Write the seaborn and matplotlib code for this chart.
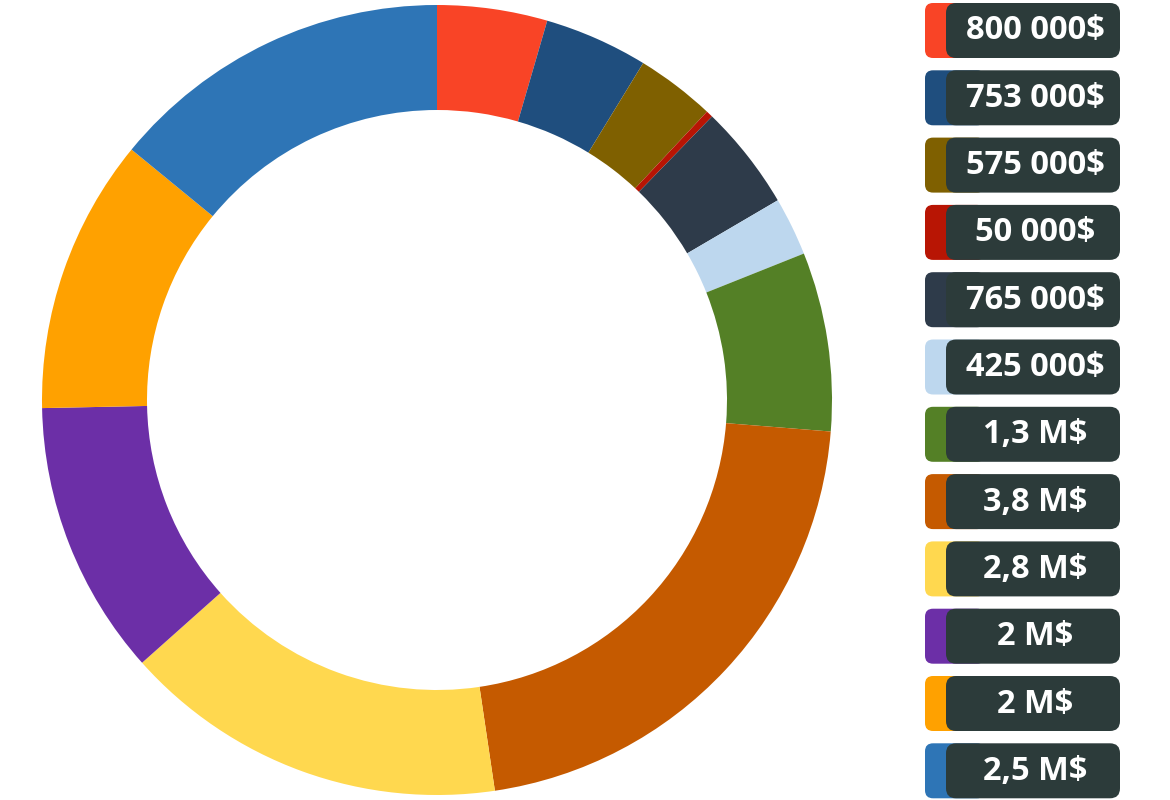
import matplotlib
matplotlib.use("Agg")
import matplotlib.pyplot as plt
from matplotlib.patches import FancyBboxPatch
import seaborn as sns

sns.set_theme(style="white")
plt.rcParams['font.family'] = ['Open Sans', 'DejaVu Sans']

labels = ["800 000$", "753 000$", "575 000$", "50 000$", "765 000$", "425 000$",
          "1,3 M$", "3,8 M$", "2,8 M$", "2 M$", "2 M$", "2,5 M$"]
values = [800000, 753000, 575000, 50000, 765000, 425000,
          1300000, 3800000, 2800000, 2000000, 2000000, 2500000]
colors = ["#F94426", "#1F4E7E", "#7F6000", "#B81504", "#2E3B4A", "#BDD7EE",
          "#548026", "#C55A00", "#FFD84F", "#6C2FA7", "#FFA100", "#2E75B6"]

W, H = 1170, 800
fig = plt.figure(figsize=(W/100, H/100), dpi=100)
ax = fig.add_axes([42/W, 1-795/H, 790/W, 790/H])
ax.pie(values, colors=colors, startangle=90, counterclock=False, radius=1,
       wedgeprops=dict(width=105/395, linewidth=0))
ax.set_xlim(-1, 1); ax.set_ylim(-1, 1)
ax.set_aspect("equal")
ax.axis("off")

lax = fig.add_axes([0, 0, 1, 1])
lax.set_xlim(0, W); lax.set_ylim(H, 0); lax.axis("off")
step = 67.3
for i, (lab, c) in enumerate(zip(labels, colors)):
    y0 = 3 + i * step
    lax.add_patch(FancyBboxPatch((925, y0), 60, 55, boxstyle="round,pad=0,rounding_size=8",
                                 fc=c, ec="none"))
    lax.add_patch(FancyBboxPatch((946, y0), 174, 55, boxstyle="round,pad=0,rounding_size=10",
                                 fc="#2C3B3A", ec="none"))
    lax.text(1035, y0 + 28, lab, color="white", fontsize=23.5, fontweight="bold",
             ha="center", va="center")

fig.savefig("out.png", dpi=100, facecolor="white")
